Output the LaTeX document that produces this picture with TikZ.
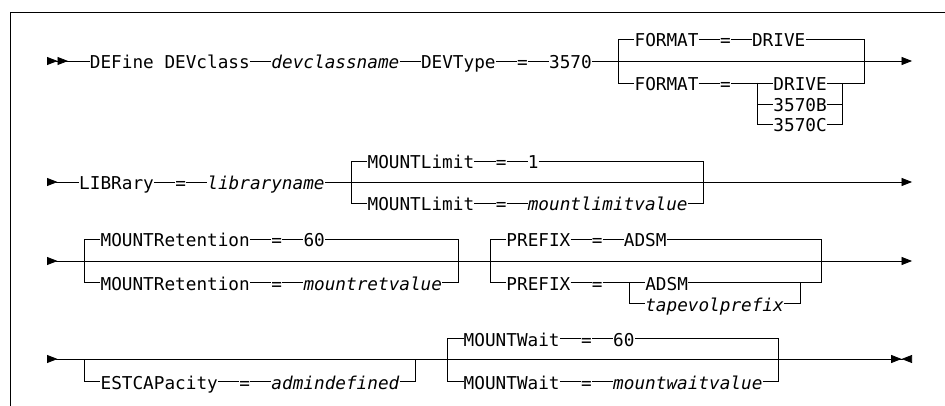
\documentclass[tikz,border=0pt]{standalone}
\usepackage{fontspec}
\setmonofont{DejaVu Sans Mono}
\usetikzlibrary{arrows.meta}
\tikzstyle{kw} = [anchor=west, inner sep=0pt, text height=16pt, text depth=0pt, font=\ttfamily\fontsize{17.7}{20}\selectfont]
\tikzstyle{var} = [kw, font=\ttfamily\itshape\fontsize{17.7}{20}\selectfont]
\tikzstyle{rail} = [draw, line width=0.8pt]
\tikzstyle{railend} = [rail, -{Triangle[length=10.5pt,width=8pt]}]
\tikzstyle{railstart} = [rail, {Triangle[reversed,length=10.5pt,width=8pt]}-]
\tikzstyle{railstarttwo} = [rail, {Triangle[reversed,length=10.5pt,width=8pt]Triangle[reversed,length=10.5pt,width=8pt]}-]
\tikzstyle{railthrough} = [rail, {Triangle[reversed,length=10.5pt,width=8pt]}-{Triangle[length=10.5pt,width=8pt]}]
\tikzstyle{railstop} = [rail, {Triangle[reversed,length=10.5pt,width=8pt]}-{Triangle[length=10.5pt,width=8pt]Triangle[reversed,length=10.5pt,width=8pt]}]

\begin{document}
\begin{tikzpicture}[x=10.68pt, y=-1pt]
				\useasboundingbox (-4.401,0) rectangle (84.082,406);
				\draw[line width=0.9pt] (-3.46,406) -- (-3.46,12) -- (84.2,12);

				% first line
				\coordinate (st1) at (0,61);
				\coordinate (e1) at (81,61);
				\coordinate (j1a) at (53.5,61);
				\coordinate (j1b) at (76.5,61);
				\coordinate (k1a) at (66.5,83);
				\coordinate (k1b) at (74.5,83);
				\node[kw] (define) at (4,61) {DEFine DEVclass};
				\node[var] (devname) at (21,61) {devclassname};
				\node[kw] (devtype) at (35,61) {DEVType};
				\node[kw] (eq1) at (44,61) {=};
				\node[kw] (n3570) at (47,61) {3570};
				\node[kw] (fmt1) at (55,39) {FORMAT};
				\node[kw] (eq1a) at (63,39) {=};
				\node[kw] (drive1) at (66,39) {DRIVE};
				\node[kw] (fmt2) at (55,83) {FORMAT};
				\node[kw] (eq1b) at (63,83) {=};
				\node[kw] (drive2) at (68,83) {DRIVE};
				\node[kw] (b3570b) at (68,104) {3570B};
				\node[kw] (b3570c) at (68,124) {3570C};

				\draw[railstarttwo] (st1) -- (define);
				\draw[railend] (n3570) -- (e1);
				\foreach \a/\b in {define/devname, devname/devtype, devtype/eq1, eq1/n3570, fmt1/eq1a, eq1a/drive1, fmt2/eq1b, eq1b/drive2}
				\draw[rail] (\a) -- (\b);
				\foreach \n in {fmt1, fmt2}
				\draw[rail] (j1a) |- (\n);
				\foreach \n in {drive1, drive2}
				\draw[rail] (\n) -| (j1b);
				\foreach \n in {b3570b, b3570c}
				\draw[rail] (k1a) |- (\n) (\n) -| (k1b);

				% second line
				\coordinate (st2) at (0,182);
				\coordinate (e2) at (81,182);
				\coordinate (j2a) at (28.5,182);
				\coordinate (j2b) at (61.5,182);
				\node[kw] (library) at (3,182) {LIBRary};
				\node[kw] (eq2) at (12,182) {=};
				\node[var] (libname) at (15,182) {libraryname};
				\node[kw] (mlim1) at (30,161) {MOUNTLimit};
				\node[kw] (eq2a) at (42,161) {=};
				\node[kw] (one) at (45,161) {1};
				\node[kw] (mlim2) at (30,203) {MOUNTLimit};
				\node[kw] (eq2b) at (42,203) {=};
				\node[var] (mlimval) at (45,203) {mountlimitvalue};

				\draw[railstart] (st2) -- (library);
				\draw[railend] (libname) -- (e2);
				\foreach \a/\b in {library/eq2, eq2/libname, mlim1/eq2a, eq2a/one, mlim2/eq2b, eq2b/mlimval}
				\draw[rail] (\a) -- (\b);
				\foreach \n in {mlim1, mlim2}
				\draw[rail] (j2a) |- (\n);
				\foreach \n in {one, mlimval}
				\draw[rail] (\n) -| (j2b);

				% third line
				\coordinate (st3) at (0,261);
				\coordinate (e3) at (81,261);
				\coordinate (j3a) at (3.5,261);
				\coordinate (j3b) at (38.5,261);
				\coordinate (j3c) at (41.5,261);
				\coordinate (j3d) at (72.5,261);
				\coordinate (k3a) at (54.5,282);
				\coordinate (k3b) at (70.5,282);
				\node[kw] (mret1) at (5,239) {MOUNTRetention};
				\node[kw] (eq3a) at (21,239) {=};
				\node[kw] (sixty1) at (24,239) {60};
				\node[kw] (mret2) at (5,282) {MOUNTRetention};
				\node[kw] (eq3b) at (21,282) {=};
				\node[var] (mretval) at (24,282) {mountretvalue};
				\node[kw] (pfx1) at (43,239) {PREFIX};
				\node[kw] (eq3c) at (51,239) {=};
				\node[kw] (adsm1) at (54,239) {ADSM};
				\node[kw] (pfx2) at (43,282) {PREFIX};
				\node[kw] (eq3d) at (51,282) {=};
				\node[kw] (adsm2) at (56,282) {ADSM};
				\node[var] (tvp) at (56,303) {tapevolprefix};

				\draw[railthrough] (st3) -- (e3);
				\foreach \a/\b in {mret1/eq3a, eq3a/sixty1, mret2/eq3b, eq3b/mretval, pfx1/eq3c, eq3c/adsm1, pfx2/eq3d, eq3d/adsm2}
				\draw[rail] (\a) -- (\b);
				\foreach \n in {mret1, mret2}
				\draw[rail] (j3a) |- (\n);
				\foreach \n in {sixty1, mretval}
				\draw[rail] (\n) -| (j3b);
				\foreach \n in {pfx1, pfx2}
				\draw[rail] (j3c) |- (\n);
				\foreach \n in {adsm1, adsm2}
				\draw[rail] (\n) -| (j3d);
				\draw[rail] (k3a) |- (tvp) (tvp) -| (k3b);

				% fourth line
				\coordinate (st4) at (0,359);
				\coordinate (e4) at (81,359);
				\coordinate (j4a) at (3.5,359);
				\coordinate (j4b) at (34.5,359);
				\coordinate (j4c) at (37.5,359);
				\coordinate (j4d) at (68.5,359);
				\node[kw] (est) at (5,381) {ESTCAPacity};
				\node[kw] (eq4a) at (18,381) {=};
				\node[var] (admin) at (21,381) {admindefined};
				\node[kw] (mw1) at (39,338) {MOUNTWait};
				\node[kw] (eq4b) at (50,338) {=};
				\node[kw] (sixty2) at (53,338) {60};
				\node[kw] (mw2) at (39,381) {MOUNTWait};
				\node[kw] (eq4c) at (50,381) {=};
				\node[var] (mwval) at (53,381) {mountwaitvalue};

				\draw[railstop] (st4) -- (e4);
				\foreach \a/\b in {est/eq4a, eq4a/admin, mw1/eq4b, eq4b/sixty2, mw2/eq4c, eq4c/mwval}
				\draw[rail] (\a) -- (\b);
				\draw[rail] (j4a) |- (est) (admin) -| (j4b);
				\foreach \n in {mw1, mw2}
				\draw[rail] (j4c) |- (\n);
				\foreach \n in {sixty2, mwval}
				\draw[rail] (\n) -| (j4d);
			\end{tikzpicture}
\end{document}
